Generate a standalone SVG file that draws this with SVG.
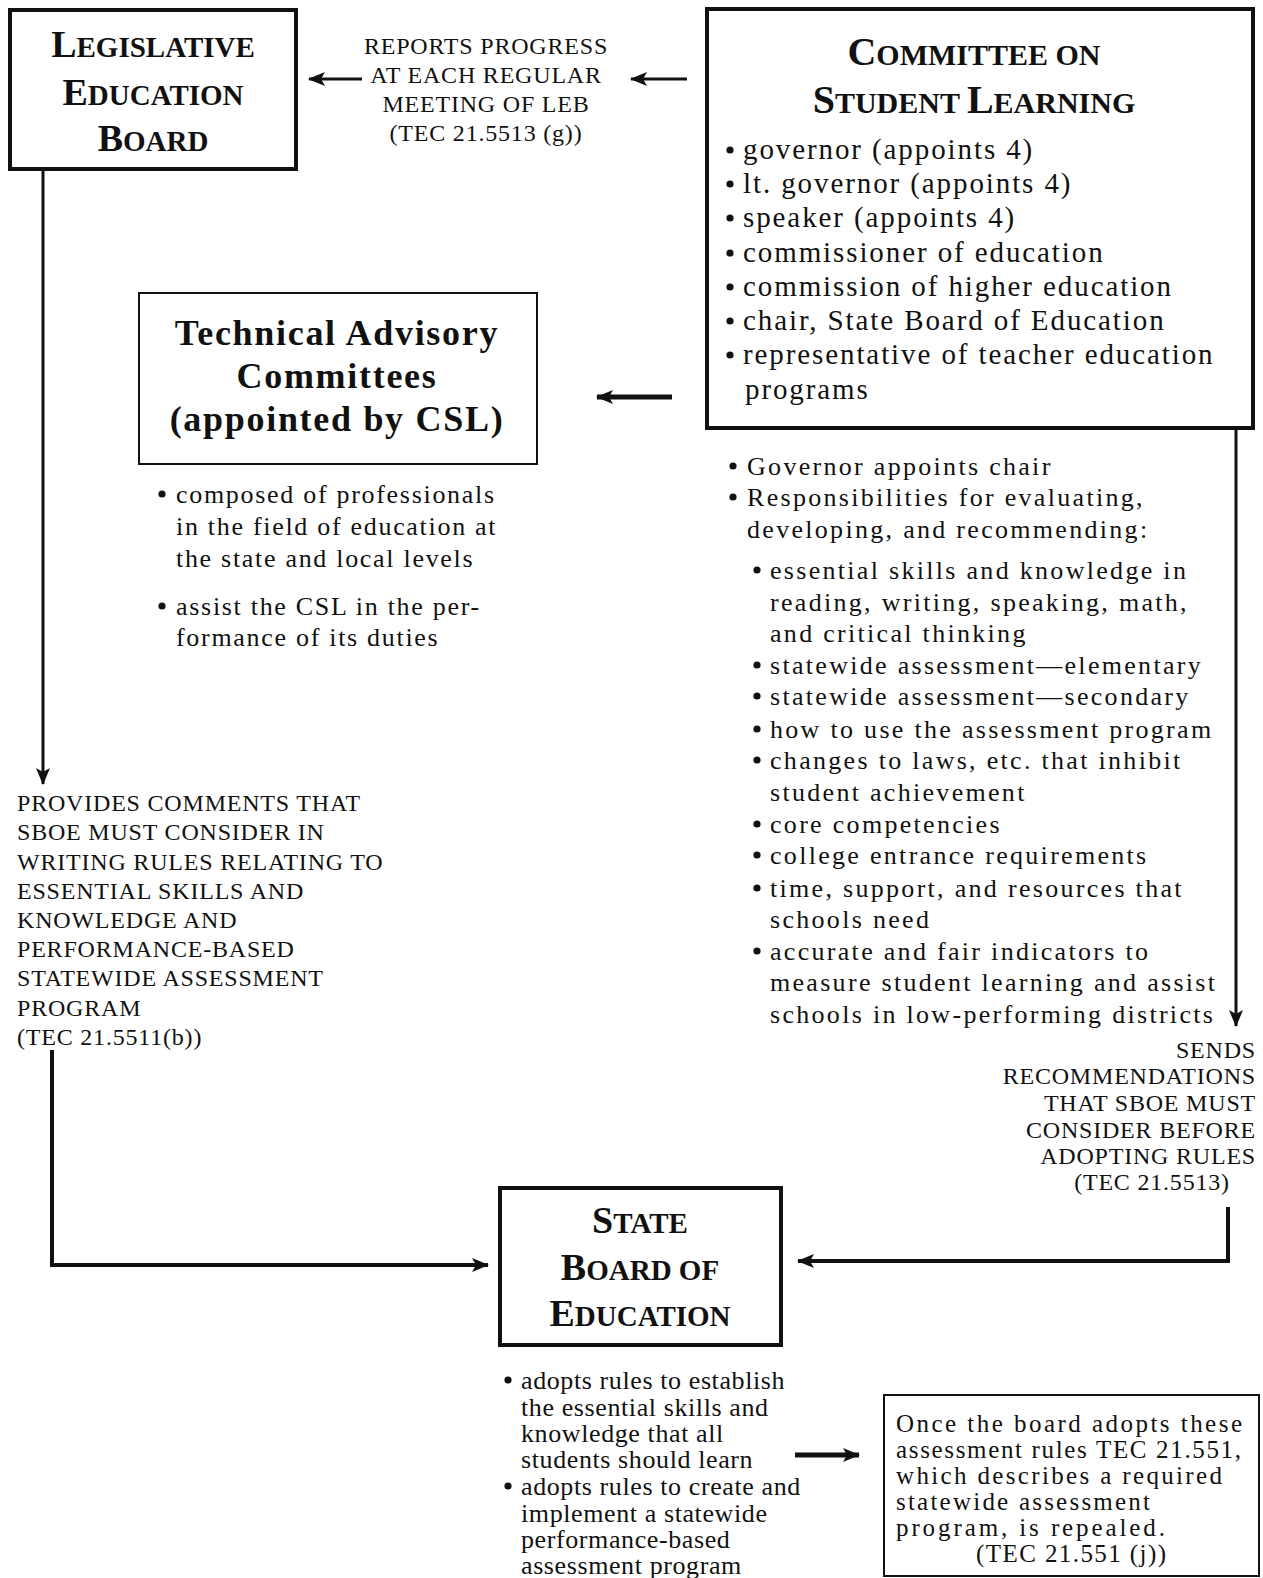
<svg xmlns="http://www.w3.org/2000/svg" width="1263" height="1578" viewBox="0 0 1263 1578">
<style>
text{font-family:"Liberation Serif","DejaVu Serif",serif;fill:#111}
.box{fill:#fff;stroke:#111;stroke-width:4}
.thin{fill:#fff;stroke:#111;stroke-width:2}
.ttl{font-weight:bold;text-anchor:middle}
.big{font-size:38px}
.sm{font-size:29px}
.cap{font-size:24px;letter-spacing:0.8px}
.csl{font-size:29px;letter-spacing:1.9px}
.tac{font-size:26px;letter-spacing:1.7px}
.rsp{font-size:26px;letter-spacing:2.3px}
.sb{font-size:26px;letter-spacing:0.6px}
.fin{font-size:25px}
.tact{font-size:36px;letter-spacing:1.7px}
.dot{fill:#111}
.ln{fill:none;stroke:#111}
</style>
<defs>
<marker id="ah" markerUnits="userSpaceOnUse" markerWidth="18" markerHeight="16" refX="16" refY="8" orient="auto">
<path d="M0,1 L17,8 L0,15 L4,8 Z" fill="#111"/>
</marker>
<circle id="b" class="dot" r="3.6" cx="0" cy="0"/>
</defs>

<g id="connectors">
<line class="ln" x1="362" y1="79" x2="309" y2="79" stroke-width="3" marker-end="url(#ah)"/>
<line class="ln" x1="687" y1="79" x2="631" y2="79" stroke-width="3" marker-end="url(#ah)"/>
<line class="ln" x1="672" y1="397" x2="597" y2="397" stroke-width="5" marker-end="url(#ah)"/>
<line class="ln" x1="43" y1="171" x2="43" y2="784" stroke-width="3" marker-end="url(#ah)"/>
<line class="ln" x1="1236" y1="430" x2="1236" y2="1026" stroke-width="3" marker-end="url(#ah)"/>
<polyline class="ln" points="52,1050 52,1265 488,1265" stroke-width="4" marker-end="url(#ah)"/>
<polyline class="ln" points="1228,1207 1228,1261 798,1261" stroke-width="4" marker-end="url(#ah)"/>
<line class="ln" x1="795" y1="1455" x2="859" y2="1455" stroke-width="5" marker-end="url(#ah)"/>
</g>

<g id="leb">
<rect class="box" x="10" y="10" width="286" height="159"/>
<text class="ttl" x="153" y="57"><tspan class="big">L</tspan><tspan class="sm">EGISLATIVE</tspan></text>
<text class="ttl" x="153" y="105"><tspan class="big">E</tspan><tspan class="sm">DUCATION</tspan></text>
<text class="ttl" x="153" y="151"><tspan class="big">B</tspan><tspan class="sm">OARD</tspan></text>
</g>

<g id="reports-label">
<text class="cap" x="486" y="54" text-anchor="middle">REPORTS PROGRESS</text>
<text class="cap" x="486" y="83" text-anchor="middle">AT EACH REGULAR</text>
<text class="cap" x="486" y="112" text-anchor="middle">MEETING OF LEB</text>
<text class="cap" x="486" y="141" text-anchor="middle">(TEC 21.5513 (g))</text>
</g>

<g id="csl">
<rect class="box" x="707" y="9" width="546" height="419"/>
<text class="ttl" x="974" y="65"><tspan style="font-size:40px">C</tspan><tspan style="font-size:30px">OMMITTEE ON</tspan></text>
<text class="ttl" x="974" y="113"><tspan style="font-size:40px">S</tspan><tspan style="font-size:30px">TUDENT </tspan><tspan style="font-size:40px">L</tspan><tspan style="font-size:30px">EARNING</tspan></text>
<use href="#b" x="730" y="150"/>
<use href="#b" x="730" y="184"/>
<use href="#b" x="730" y="218"/>
<use href="#b" x="730" y="253"/>
<use href="#b" x="730" y="287"/>
<use href="#b" x="730" y="321"/>
<use href="#b" x="730" y="355"/>
<g class="csl">
<text x="743" y="159">governor (appoints 4)</text>
<text x="743" y="193">lt. governor (appoints 4)</text>
<text x="743" y="227">speaker (appoints 4)</text>
<text x="743" y="262">commissioner of education</text>
<text x="743" y="296">commission of higher education</text>
<text x="743" y="330">chair, State Board of Education</text>
<text x="743" y="364">representative of teacher education</text>
<text x="745" y="399">programs</text>
</g>
</g>

<g id="csl-notes">
<use href="#b" x="733" y="466"/>
<use href="#b" x="733" y="497"/>
<use href="#b" x="757" y="570"/>
<use href="#b" x="757" y="665"/>
<use href="#b" x="757" y="696"/>
<use href="#b" x="757" y="729"/>
<use href="#b" x="757" y="760"/>
<use href="#b" x="757" y="824"/>
<use href="#b" x="757" y="855"/>
<use href="#b" x="757" y="888"/>
<use href="#b" x="757" y="951"/>
<g class="rsp">
<text x="747" y="475">Governor appoints chair</text>
<text x="747" y="506">Responsibilities for evaluating,</text>
<text x="747" y="538">developing, and recommending:</text>
<text x="770" y="579">essential skills and knowledge in</text>
<text x="770" y="611">reading, writing, speaking, math,</text>
<text x="770" y="642">and critical thinking</text>
<text x="770" y="674">statewide assessment—elementary</text>
<text x="770" y="705">statewide assessment—secondary</text>
<text x="770" y="738">how to use the assessment program</text>
<text x="770" y="769">changes to laws, etc. that inhibit</text>
<text x="770" y="801">student achievement</text>
<text x="770" y="833">core competencies</text>
<text x="770" y="864">college entrance requirements</text>
<text x="770" y="897">time, support, and resources that</text>
<text x="770" y="928">schools need</text>
<text x="770" y="960">accurate and fair indicators to</text>
<text x="770" y="991">measure student learning and assist</text>
<text x="770" y="1023">schools in low-performing districts</text>
</g>
</g>

<g id="tac">
<rect class="thin" x="139" y="293" width="398" height="171"/>
<text class="ttl tact" x="337" y="345">Technical Advisory</text>
<text class="ttl tact" x="337" y="388">Committees</text>
<text class="ttl tact" x="337" y="431">(appointed by CSL)</text>
</g>

<g id="tac-notes">
<use href="#b" x="162" y="494"/>
<use href="#b" x="162" y="606"/>
<g class="tac">
<text x="176" y="503">composed of professionals</text>
<text x="176" y="535">in the field of education at</text>
<text x="176" y="567">the state and local levels</text>
<text x="176" y="615">assist the CSL in the per-</text>
<text x="176" y="646">formance of its duties</text>
</g>
</g>

<g id="provides-label" class="cap">
<text x="17" y="811">PROVIDES COMMENTS THAT</text>
<text x="17" y="840">SBOE MUST CONSIDER IN</text>
<text x="17" y="870">WRITING RULES RELATING TO</text>
<text x="17" y="899">ESSENTIAL SKILLS AND</text>
<text x="17" y="928">KNOWLEDGE AND</text>
<text x="17" y="957">PERFORMANCE-BASED</text>
<text x="17" y="986">STATEWIDE ASSESSMENT</text>
<text x="17" y="1016">PROGRAM</text>
<text x="17" y="1045">(TEC 21.5511(b))</text>
</g>

<g id="sends-label" class="cap">
<text x="1256" y="1058" text-anchor="end">SENDS</text>
<text x="1256" y="1084" text-anchor="end">RECOMMENDATIONS</text>
<text x="1256" y="1111" text-anchor="end">THAT SBOE MUST</text>
<text x="1256" y="1138" text-anchor="end">CONSIDER BEFORE</text>
<text x="1256" y="1164" text-anchor="end">ADOPTING RULES</text>
<text x="1152" y="1190" text-anchor="middle">(TEC 21.5513)</text>
</g>

<g id="sboe">
<rect class="box" x="500" y="1188" width="281" height="157"/>
<text class="ttl" x="640" y="1233"><tspan class="big">S</tspan><tspan class="sm">TATE</tspan></text>
<text class="ttl" x="640" y="1280"><tspan class="big">B</tspan><tspan class="sm">OARD OF</tspan></text>
<text class="ttl" x="640" y="1326"><tspan class="big">E</tspan><tspan class="sm">DUCATION</tspan></text>
</g>

<g id="sboe-notes">
<use href="#b" x="508" y="1380"/>
<use href="#b" x="508" y="1486"/>
<g class="sb">
<text x="521" y="1389">adopts rules to establish</text>
<text x="521" y="1416">the essential skills and</text>
<text x="521" y="1442">knowledge that all</text>
<text x="521" y="1468">students should learn</text>
<text x="521" y="1495">adopts rules to create and</text>
<text x="521" y="1522">implement a statewide</text>
<text x="521" y="1548">performance-based</text>
<text x="521" y="1574">assessment program</text>
</g>
</g>

<g id="repeal-note">
<rect class="thin" x="884" y="1395" width="375" height="181"/>
<text class="fin" x="896" y="1432" textLength="346" lengthAdjust="spacing">Once the board adopts these</text>
<text class="fin" x="896" y="1458" textLength="345" lengthAdjust="spacing">assessment rules TEC 21.551,</text>
<text class="fin" x="896" y="1484" textLength="326" lengthAdjust="spacing">which describes a required</text>
<text class="fin" x="896" y="1510" textLength="254" lengthAdjust="spacing">statewide assessment</text>
<text class="fin" x="896" y="1536" textLength="269" lengthAdjust="spacing">program, is repealed.</text>
<text class="fin" x="976" y="1562" textLength="190" lengthAdjust="spacing">(TEC 21.551 (j))</text>
</g>
</svg>
